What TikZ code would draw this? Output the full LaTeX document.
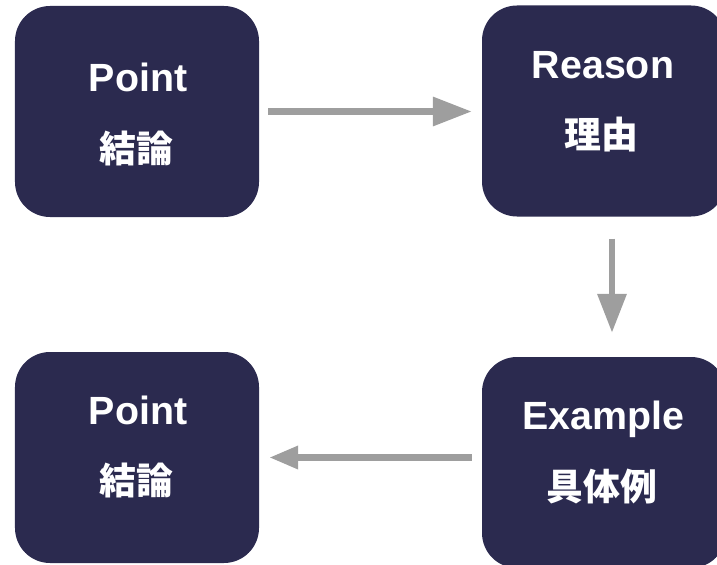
\documentclass[tikz,border=0pt]{standalone}
\usepackage{fontspec}
\setmainfont{Liberation Sans}
\newfontfamily\jafont{Noto Sans CJK JP}
\usetikzlibrary{positioning,calc,arrows.meta}
\definecolor{cardnavy}{HTML}{2B2A4F}
\definecolor{flowgray}{HTML}{9E9E9E}

\tikzset{
  card/.style={fill=cardnavy, rounded corners=35bp, minimum width=244bp, minimum height=211bp, inner sep=0pt},
  entext/.style={text=white, font=\fontsize{39.5}{41}\selectfont\bfseries, anchor=base, inner sep=0pt},
  jatext/.style={text=white, font=\jafont\bfseries\fontsize{37}{40}\selectfont, inner sep=0pt},
  flow/.style={draw=flowgray, line width=6.5bp, -{Triangle[length=39bp,width=28bp]}},
}

\begin{document}
\begin{tikzpicture}[x=1bp, y=-1bp]
    \clip (0,0) rectangle (717,565);

    \node [card] (P1) at (137,111.5) {};
    \node [card] (R1) at (604,111) {};
    \node [card] (E1) at (604,462.5) {};
    \node [card] (P2) at (137,457.5) {};

    % labels
    \node [entext] (P1en) at (138,92) {Point};
    \node [jatext] (P1ja) at (136.5,148) {結論};
    \node [entext] (R1en) at (603,79) {Reason};
    \node [jatext] (R1ja) at (601,135) {理由};
    \node [entext] (E1en) at (603,429) {Example};
    \node [jatext] (E1ja) at (602,487) {具体例};
    \node [entext] (P2en) at (138,424) {Point};
    \node [jatext] (P2ja) at (136.5,480) {結論};

    \draw [flow, shorten <=9bp, shorten >=10bp] (P1.east) -- (R1.west |- P1.east);
    \draw [flow, shorten <=22bp, shorten >=24bp] ([xshift=8bp]R1.south) -- ([xshift=8bp]R1.south |- E1.north);
    \draw [flow, -{Triangle[length=29bp,width=22bp]}, shorten <=10bp, shorten >=10bp] (E1.west |- P2.east) -- (P2.east);
\end{tikzpicture}
\end{document}
